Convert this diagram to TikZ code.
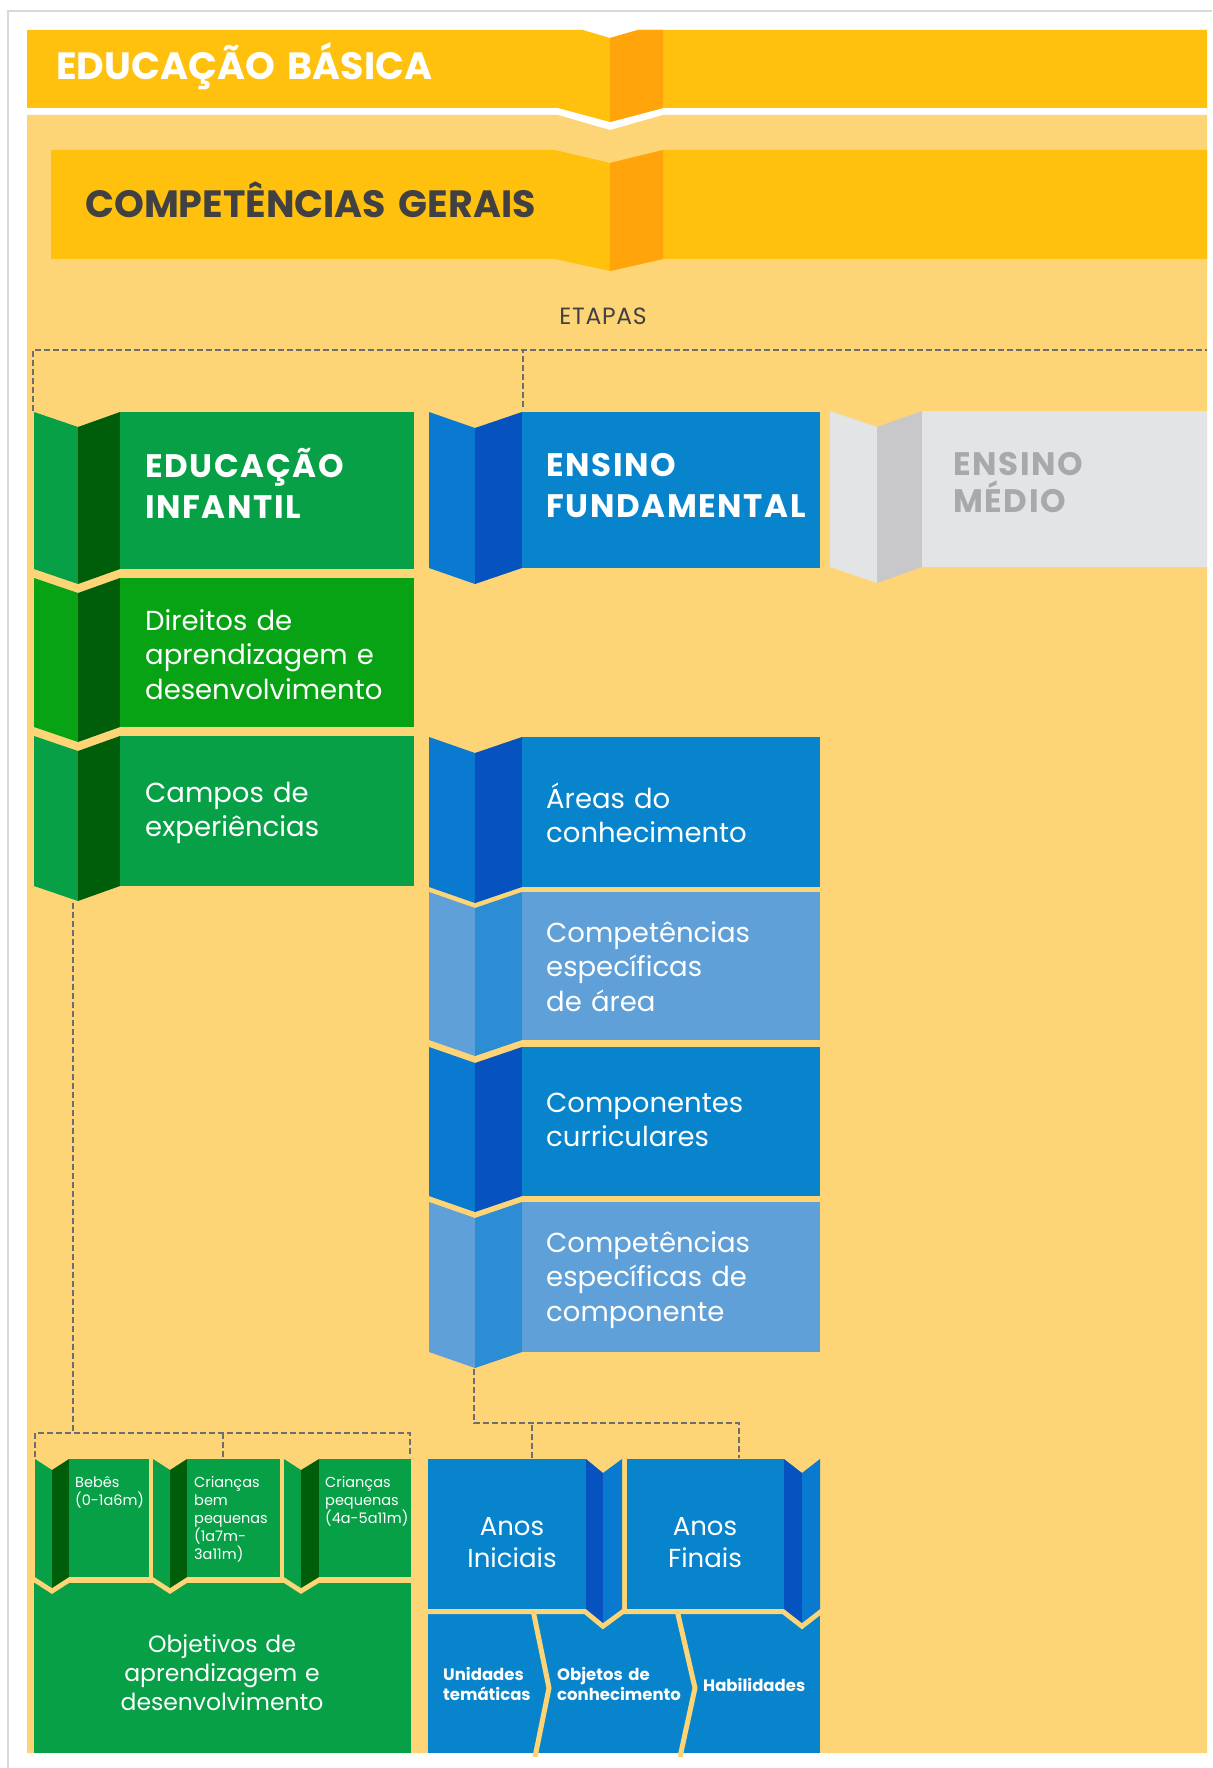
\documentclass[tikz,border=0pt]{standalone}
\usepackage{fontspec}
\setmainfont{Poppins}
\newfontfamily\titlefont[LetterSpace=5]{Poppins}
\newfontfamily\banfont[LetterSpace=3]{Poppins}
\definecolor{bg}{HTML}{FDD576}
\definecolor{ban}{HTML}{FFC10E}
\definecolor{banor}{HTML}{FFA40A}
\definecolor{gmain}{HTML}{07A047}
\definecolor{gdir}{HTML}{08A314}
\definecolor{gdark}{HTML}{005E0A}
\definecolor{bmain}{HTML}{0884CD}
\definecolor{bdark}{HTML}{0652BE}
\definecolor{blight}{HTML}{0A79D0}
\definecolor{lbmain}{HTML}{60A0D8}
\definecolor{lbdark}{HTML}{2C8CD4}
\definecolor{grmain}{HTML}{E3E4E6}
\definecolor{grmid}{HTML}{C8C8CA}
\definecolor{grtext}{HTML}{A7A9AC}
\definecolor{txtdark}{HTML}{414042}
\definecolor{dashcol}{HTML}{6D6E71}
\def\fd{15}
\newcommand\fblockL[9]{% x0 x1 x2 x3 t b light dark main
  \fill[#7] (#1,#5) -- (#2,#5+\fd) -- (#2,#6+\fd) -- (#1,#6) -- cycle;
  \fill[#8] (#2,#5+\fd) -- (#3,#5) -- (#3,#6) -- (#2,#6+\fd) -- cycle;
  \fill[#9] (#3,#5) rectangle (#4,#6);}
\newcommand\gapL[6]{%
  \draw[bg, line width=10, line join=miter] (#1,#5) -- (#2,#5+\fd) -- (#3,#5) -- (#4,#5) -- (#4,#6) -- (#3,#6) -- (#2,#6+\fd) -- (#1,#6) -- cycle;}
\newcommand\fblockR[9]{% x0 x1 x2 x3 t b main dark light
  \fill[#7] (#1,#5) rectangle (#2,#6);
  \fill[#8] (#2,#5) -- (#3,#5+\fd) -- (#3,#6+\fd) -- (#2,#6) -- cycle;
  \fill[#9] (#3,#5+\fd) -- (#4,#5) -- (#4,#6) -- (#3,#6+\fd) -- cycle;}
\newcommand\gapR[6]{%
  \draw[bg, line width=10, line join=miter] (#1,#5) -- (#2,#5) -- (#3,#5+\fd) -- (#4,#5) -- (#4,#6) -- (#3,#6+\fd) -- (#2,#6) -- (#1,#6) -- cycle;}
\tikzset{
  lbl/.style={inner sep=0pt, anchor=base west, align=left, text width=330pt, text=white},
  wlbl/.style={lbl, text width=700pt},
  clbl/.style={inner sep=0pt, anchor=base, align=center, text=white},
  dashline/.style={draw=dashcol, line width=2pt, dash pattern=on 6pt off 3pt},
  ttl/.style={font=\titlefont\fontsize{32.5}{41}\selectfont\bfseries},
  body/.style={font=\fontsize{27.5}{34.5}\selectfont},
  small/.style={font=\fontsize{14.5}{18}\selectfont},
}
\begin{document}
\begin{tikzpicture}[x=1pt,y=-1pt]
\useasboundingbox (0,0) rectangle (1212,1768);
\fill[white] (0,0) rectangle (1212,1768);
\draw[black!15, line width=1.5pt] (8,1768) -- (8,11) -- (1212,11);
% background
\fill[bg] (27,115) -- (558,115) -- (610,130) -- (663,115) -- (1207,115) -- (1207,1753) -- (27,1753) -- cycle;
% banner 1
\fill[ban] (27,30) -- (583,30) -- (610,38) -- (638,30) -- (1207,30) -- (1207,108) -- (663,108) -- (610,122) -- (558,108) -- (27,108) -- cycle;
\fill[banor] (610,38) -- (638,30) -- (663,30) -- (663,108) -- (610,122) -- cycle;
% banner 2
\fill[ban] (51,150) -- (555,150) -- (610,163) -- (663,150) -- (1207,150) -- (1207,259) -- (663,259) -- (610,271) -- (555,259) -- (51,259) -- cycle;
\fill[banor] (610,163) -- (663,150) -- (663,259) -- (610,271) -- cycle;
% green column
\fblockL{34}{78}{120}{414}{412}{569}{gmain}{gdark}{gmain}
\fblockL{34}{78}{120}{414}{578}{727}{gdir}{gdark}{gdir}
\fblockL{34}{78}{120}{414}{736}{886}{gmain}{gdark}{gmain}
% blue column
\def\fd{16}
\fblockL{429}{475}{522}{820}{412}{568}{blight}{bdark}{bmain}
\fblockL{429}{475}{522}{820}{737}{887}{blight}{bdark}{bmain}
\fblockL{429}{475}{522}{820}{892}{1040}{lbmain}{lbdark}{lbmain}
\fblockL{429}{475}{522}{820}{1047}{1196}{blight}{bdark}{bmain}
\fblockL{429}{475}{522}{820}{1202}{1352}{lbmain}{lbdark}{lbmain}
% grey
\fblockL{830}{877}{922}{1207}{411}{567}{grmain}{grmid}{grmain}
% bottom green
\fill[gmain] (34,1583) rectangle (411,1753);
\def\fd{11}
\gapL{35}{52}{69}{149}{1459}{1577}
\gapL{153}{170}{187}{280}{1459}{1577}
\gapL{284}{301}{319}{411}{1459}{1577}
\fblockL{35}{52}{69}{149}{1459}{1577}{gmain}{gdark}{gmain}
\fblockL{153}{170}{187}{280}{1459}{1577}{gmain}{gdark}{gmain}
\fblockL{284}{301}{319}{411}{1459}{1577}{gmain}{gdark}{gmain}
% bottom blue
\fill[bmain] (428,1614) rectangle (820,1753);
\draw[bg, line width=5pt] (533,1610) -- (549,1688) -- (535,1757);
\draw[bg, line width=5pt] (677,1610) -- (695,1688) -- (680,1757);
\def\fd{14}
\gapR{428}{586}{603}{622}{1459}{1609}
\gapR{627}{784}{802}{820}{1459}{1609}
\fblockR{428}{586}{603}{622}{1459}{1609}{bmain}{bdark}{blight}
\fblockR{627}{784}{802}{820}{1459}{1609}{bmain}{bdark}{blight}
% connectors
\coordinate (etR) at (1207,350);
\coordinate (eiTop) at (33,411);
\coordinate (efTop) at (523,407);
\draw[dashline] (eiTop) |- (etR);
\draw[dashline] (efTop) -- (efTop |- etR);
\coordinate (campBot) at (73,903);
\coordinate (gbar) at (73,1433);
\coordinate (bebTop) at (35,1457);
\coordinate (cbpTop) at (223,1457);
\coordinate (cpTop) at (410,1457);
\draw[dashline] (campBot) -- (gbar);
\draw[dashline] (bebTop) -- (bebTop |- gbar) -| (cpTop);
\draw[dashline] (cbpTop) -- (cbpTop |- gbar);
\coordinate (cecBot) at (474,1369);
\coordinate (bbar) at (474,1423);
\coordinate (aiTop) at (532,1458);
\coordinate (afTop) at (739,1458);
\draw[dashline] (cecBot) -- (bbar) -| (afTop);
\draw[dashline] (aiTop) -- (aiTop |- bbar);
% texts
\node[wlbl, font=\fontsize{38}{40}\selectfont\bfseries] (tEB) at (56,80) {EDUCAÇÃO BÁSICA};
\node[wlbl, text=txtdark, font=\fontsize{38}{40}\selectfont\bfseries] (tCG) at (85,218) {COMPETÊNCIAS GERAIS};
\node[clbl, text=txtdark, font=\banfont\fontsize{23.5}{24}\selectfont] (tET) at (603,324) {ETAPAS};
\node[lbl, ttl] (tEI) at (145,477) {EDUCAÇÃO\\INFANTIL};
\node[lbl, ttl] (tEF) at (546,476) {ENSINO\\FUNDAMENTAL};
\node[lbl, text=grtext, font=\titlefont\fontsize{32.5}{37}\selectfont\bfseries] (tEM) at (953,475) {ENSINO\\MÉDIO};
\node[lbl, body] (tDI) at (145,630) {Direitos de\\aprendizagem e\\desenvolvimento};
\node[lbl, body] (tCA) at (145,802) {Campos de\\experiências};
\node[lbl, body] (tAR) at (546,808) {Áreas do\\conhecimento};
\node[lbl, body] (tCEA) at (546,942) {Competências\\específicas\\de área};
\node[lbl, body] (tCC) at (546,1112) {Componentes\\curriculares};
\node[lbl, body] (tCEC) at (546,1252) {Competências\\específicas de\\componente};
\node[lbl, small] (tBB) at (75,1487) {Bebês\\(0-1a6m)};
\node[lbl, small] (tCBP) at (194,1487) {Crianças\\bem\\pequenas\\(1a7m-\\3a11m)};
\node[lbl, small] (tCP) at (325,1487) {Crianças\\pequenas\\(4a-5a11m)};
\node[clbl, text width=360pt, font=\fontsize{23.5}{29}\selectfont] (tOB) at (222,1652) {Objetivos de\\aprendizagem e\\desenvolvimento};
\node[clbl, text width=160pt, font=\fontsize{26}{32}\selectfont] (tAI) at (512,1535) {Anos\\Iniciais};
\node[clbl, text width=160pt, font=\fontsize{26}{32}\selectfont] (tAF) at (705,1535) {Anos\\Finais};
\node[lbl, font=\fontsize{16.5}{20}\selectfont\bfseries] (tUT) at (443,1680) {Unidades\\temáticas};
\node[lbl, font=\fontsize{16.5}{20}\selectfont\bfseries] (tOC) at (557,1680) {Objetos de\\conhecimento};
\node[lbl, font=\fontsize{16.5}{20}\selectfont\bfseries] (tHA) at (703,1691) {Habilidades};
\end{tikzpicture}
\end{document}
